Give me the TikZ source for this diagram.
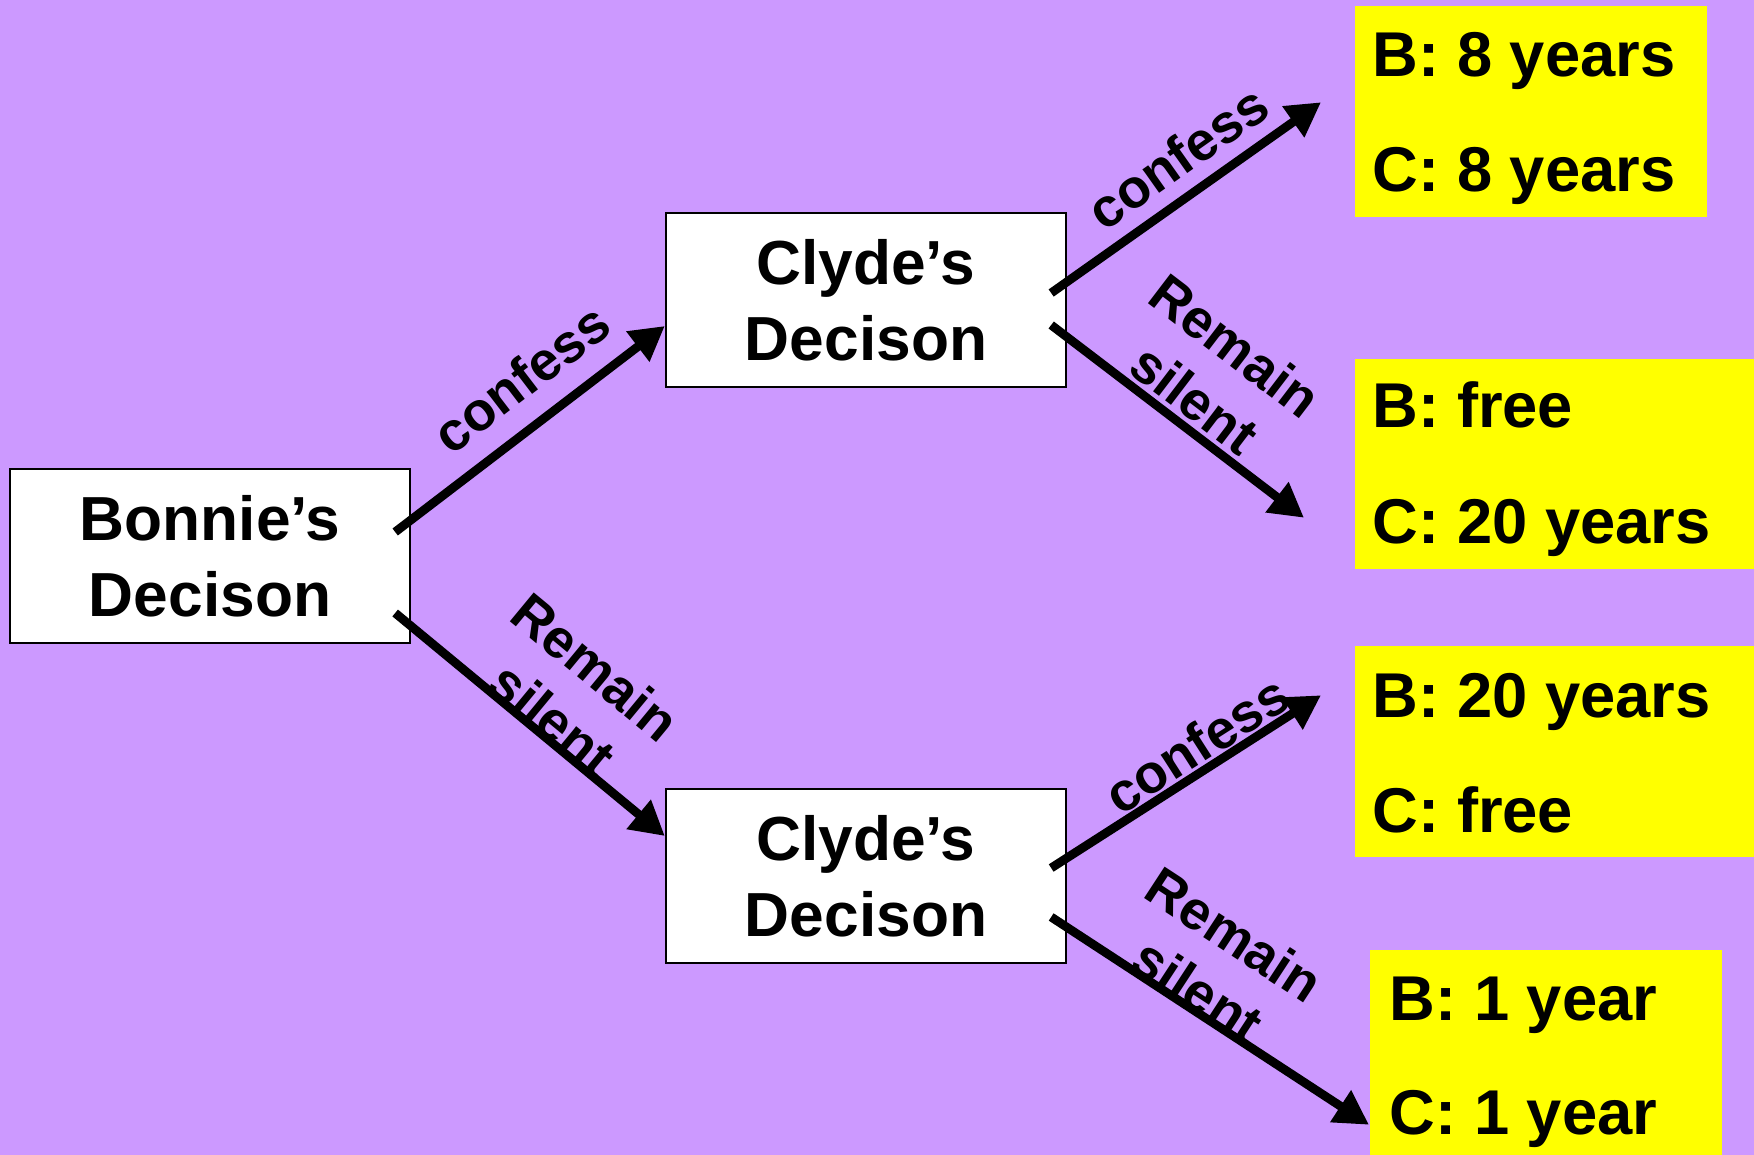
\documentclass[tikz,border=0pt]{standalone}
\usepackage{fontspec}
\setmainfont{Liberation Sans}
\usepackage{xcolor}
\usepackage{tikz}
\usetikzlibrary{arrows.meta, positioning}
\definecolor{lavender}{RGB}{204,153,255}
\definecolor{payyellow}{RGB}{255,255,0}

\begin{document}
\begin{tikzpicture}[
    x=0.01cm, y=-0.01cm,
    decision/.style={rectangle, draw, fill=white, line width=0.6pt, minimum width=4cm, minimum height=1.74cm, align=center, inner sep=0pt, font=\fontsize{17.7}{21.6}\selectfont\bfseries},
    payoff/.style={rectangle, fill=payyellow, anchor=north west, inner sep=0pt},
    payline/.style={anchor=base west, inner sep=0pt, font=\fontsize{18}{21.6}\selectfont\bfseries},
    choice/.style={sloped, align=center, inner sep=0pt, font=\fontsize{15.5}{19}\selectfont\bfseries},
    arrow/.style={-{Triangle[length=3.4mm, width=3.6mm]}, line width=2.5pt}
]
\path[fill=lavender, use as bounding box] (0,0) rectangle (1754,1155);

\node[decision] (bonnie) at (210,556) {Bonnie’s\\Decison};
\node[decision] (clydeup) at (866,300) {Clyde’s\\Decison};
\node[decision] (clydedown) at (866,876) {Clyde’s\\Decison};

\node[payoff, minimum width=3.52cm, minimum height=2.11cm] (cc) at (1354,5) {};
\node[payoff, minimum width=4cm, minimum height=2.1cm] (cs) at (1354,358) {};
\node[payoff, minimum width=4cm, minimum height=2.11cm] (sc) at (1354,645) {};
\node[payoff, minimum width=3.52cm, minimum height=2.3cm] (ss) at (1369,949) {};

\node[payline] (ccb) at (1372,77) {B: 8 years};
\node[payline] (ccc) at (1372,192) {C: 8 years};
\node[payline] (csb) at (1372,428) {B: free};
\node[payline] (csc) at (1372,544) {C: 20 years};
\node[payline] (scb) at (1372,717) {B: 20 years};
\node[payline] (scc) at (1372,832) {C: free};
\node[payline] (ssb) at (1389,1020) {B: 1 year};
\node[payline] (ssc) at (1389,1134) {C: 1 year};

\draw[arrow] ([shift={(-16,-24)}]bonnie.east) -- node[choice, pos=0.57, yshift=13pt] {confess} ([shift={(0,26)}]clydeup.west);
\draw[arrow] ([shift={(-16,57)}]bonnie.east) -- node[choice, pos=0.54, yshift=15pt] {Remain\\silent} ([shift={(0,-40)}]clydedown.west);

\draw[arrow] ([shift={(-16,-7)}]clydeup.east) -- node[choice, pos=0.55, yshift=10.8pt] {confess} ([shift={(-33,-9)}]cc.west);
\draw[arrow] ([shift={(-16,25)}]clydeup.east) -- node[choice, pos=0.5, yshift=17.6pt] {Remain\\silent} ([shift={(-50,54)}]cs.west);

\draw[arrow] ([shift={(-16,-8)}]clydedown.east) -- node[choice, pos=0.59, yshift=7.4pt] {confess} ([shift={(-33,-56)}]sc.west);
\draw[arrow] ([shift={(-16,41)}]clydedown.east) -- node[choice, pos=0.43, yshift=14.9pt] {Remain\\silent} ([shift={(0,60)}]ss.west);
\end{tikzpicture}
\end{document}
